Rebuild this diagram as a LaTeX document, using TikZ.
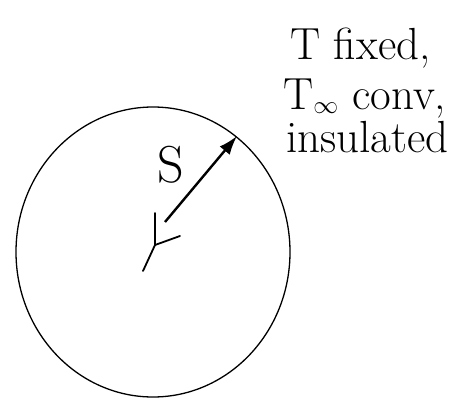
\documentclass[tikz,border=0pt]{standalone}
\usetikzlibrary{arrows.meta}
\begin{document}
\begin{tikzpicture}[x=1pt,y=1pt,
  rim/.style={line width=1.3pt},
  pen/.style={line width=1.8pt, line cap=round},
  radius arrow/.style={line width=2.4pt, -{Latex[length=19pt,width=13pt]}},
  note/.style={anchor=base west, inner sep=0pt, font=\fontsize{45}{50}\selectfont}
]
\useasboundingbox (0,0) rectangle (462,402);
% sphere outline
\draw[rim] (153,150) ellipse [x radius=137, y radius=145];
% centre mark
\coordinate (ctop) at (155,189);
\coordinate (c) at (155,157);
\coordinate (cright) at (180,166);
\coordinate (cdown) at (143,131);
\draw[pen] (ctop) -- (c) -- (cright);
\draw[pen] (c) -- (cdown);
% radius arrow
\coordinate (tail) at (165,180);
\coordinate (tip) at (237,266);
\draw[radius arrow] (tail) -- (tip);
\node[note, font=\fontsize{52}{56}\selectfont] (S) at (157,220) {S};
% boundary conditions
\node[note] (l1) at (290,342) {T fixed,};
\node[note] (l2) at (283,292) {T$_\infty$ conv,};
\node[note] (l3) at (286,250) {insulated};
\end{tikzpicture}
\end{document}
